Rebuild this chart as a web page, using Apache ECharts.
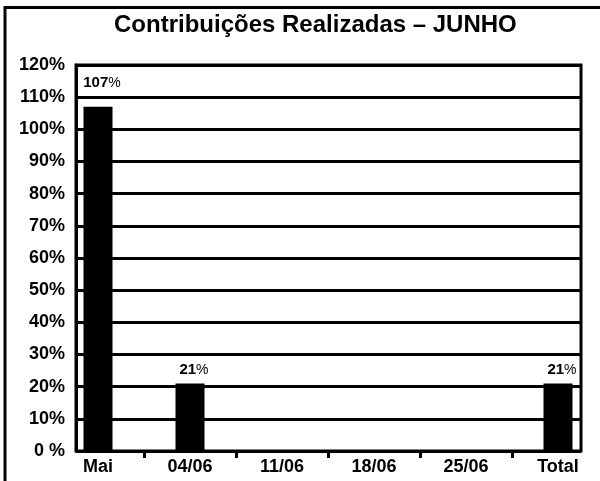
<!DOCTYPE html>
<html>
<head>
<meta charset="utf-8">
<script src="https://cdn.jsdelivr.net/npm/echarts@6/dist/echarts.min.js"></script>
<style>
  html, body { margin: 0; padding: 0; background: #fff; }
  #chart { width: 600px; height: 481px; }
</style>
</head>
<body>
<div id="chart"></div>
<script>
var categories = ['Mai', '04/06', '11/06', '18/06', '25/06', 'Total'];
var percentValues = [107, 21, null, null, null, 21];
var yTicks = [0, 10, 20, 30, 40, 50, 60, 70, 80, 90, 100, 110, 120];

var font = '"Liberation Sans", Arial, sans-serif';

var chart = echarts.init(document.getElementById('chart'));

var barData = percentValues.map(function (v, i) {
  if (i === 0) {
    return { value: v, label: { distance: 16 } }; // rótulo do Mai fica mais alto
  }
  return v;
});

var option = {
  animation: false,
  backgroundColor: '#fff',
  title: {
    text: 'Contribuições Realizadas – JUNHO',
    left: 114,
    top: 13,
    padding: 0,
    textStyle: { fontFamily: font, fontSize: 24, fontWeight: 'bold', color: '#000' }
  },
  graphic: [{
    type: 'rect',
    shape: { x: 5, y: 7.5, width: 800, height: 800 },
    style: { fill: null, stroke: '#000', lineWidth: 3 },
    silent: true
  }],
  grid: [
    // moldura do gráfico
    { left: 76, width: 505, top: 65, height: 386, outerBoundsMode: 'none', show: true, borderColor: '#000', borderWidth: 3, backgroundColor: 'transparent' },
    // área das barras (mais larga que a moldura)
    { left: 52, width: 552, top: 65, height: 386, outerBoundsMode: 'none' }
  ],
  xAxis: [{
    type: 'category',
    gridIndex: 0,
    data: categories,
    axisLine: { show: false },
    axisTick: { show: false },
    axisLabel: { show: false }
  }, {
    type: 'category',
    gridIndex: 1,
    data: categories,
    axisLine: { show: false },
    axisTick: {
      show: true,
      length: 7,
      interval: function (index) { return index !== 0; },
      lineStyle: { color: '#000', width: 3 }
    },
    axisLabel: {
      interval: 0,
      margin: 7,
      color: '#000',
      fontFamily: font,
      fontSize: 18,
      fontWeight: 'bold'
    }
  }],
  yAxis: [{
    type: 'value',
    gridIndex: 0,
    min: yTicks[0],
    max: yTicks[yTicks.length - 1],
    interval: 10,
    axisLine: { show: true, lineStyle: { color: '#000', width: 3 } },
    axisTick: { show: false },
    splitLine: { show: true, lineStyle: { color: '#000', width: 3 } },
    axisLabel: {
      margin: 11,
      color: '#000',
      fontFamily: font,
      fontSize: 18,
      fontWeight: 'bold',
      padding: [10, 0, 0, 0],
      formatter: function (v) { return v === 0 ? '0 %' : v + '%'; }
    }
  }, {
    type: 'value',
    gridIndex: 1,
    min: yTicks[0],
    max: yTicks[yTicks.length - 1],
    show: false
  }],
  series: [{
    type: 'bar',
    xAxisIndex: 1,
    yAxisIndex: 1,
    data: barData,
    barWidth: 29,
    itemStyle: { color: '#000' },
    label: {
      show: true,
      position: 'top',
      distance: 6,
      offset: [4, 0],
      formatter: function (p) { return '{n|' + p.value + '}{p|%}'; },
      rich: {
        n: { fontFamily: font, fontSize: 15, fontWeight: 'bold', color: '#000' },
        p: { fontFamily: font, fontSize: 14, color: '#000' }
      }
    }
  }]
};

chart.setOption(option);
</script>
</body>
</html>
